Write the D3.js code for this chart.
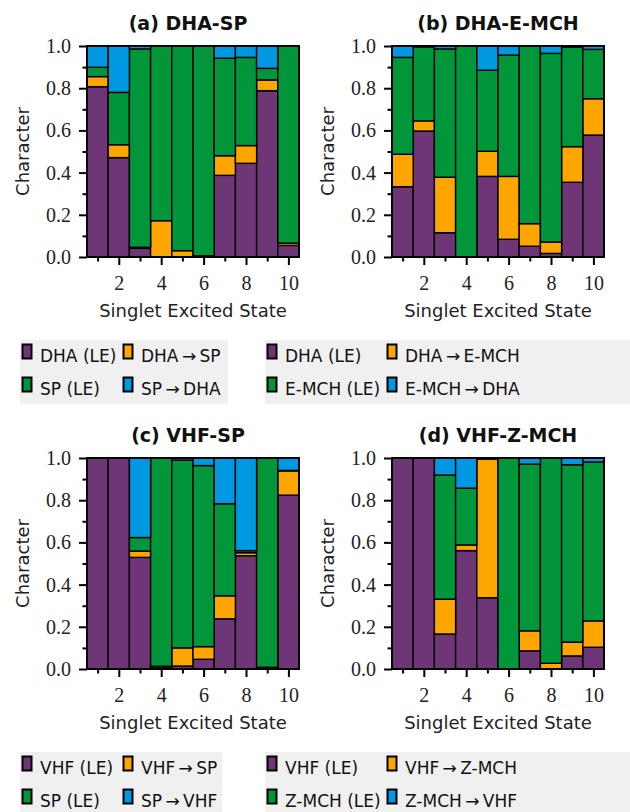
<!DOCTYPE html>
<html>
<head>
<meta charset="utf-8">
<script src="https://cdnjs.cloudflare.com/ajax/libs/d3/7.8.5/d3.min.js"></script>
<style>
body { margin: 0; background: #fff; }
svg { display: block; }
</style>
</head>
<body>
<svg id="chart" width="630" height="812"></svg>
<script>
var states = [1, 2, 3, 4, 5, 6, 7, 8, 9, 10];

// (a) DHA-SP
var aDhaLE   = [0.807, 0.471, 0.041, 0.000, 0.000, 0.003, 0.387, 0.444, 0.788, 0.055];
var aDhaToSp = [0.048, 0.061, 0.005, 0.172, 0.030, 0.003, 0.093, 0.084, 0.051, 0.011];
var aSpLE    = [0.044, 0.248, 0.940, 0.828, 0.970, 0.994, 0.462, 0.418, 0.055, 0.934];
var aSpToDha = [0.101, 0.220, 0.014, 0.000, 0.000, 0.000, 0.058, 0.054, 0.106, 0.000];

// (b) DHA-E-MCH
var bDhaLE     = [0.333, 0.597, 0.115, 0.000, 0.382, 0.084, 0.051, 0.017, 0.354, 0.578];
var bDhaToEmch = [0.154, 0.048, 0.263, 0.000, 0.119, 0.298, 0.107, 0.054, 0.169, 0.172];
var bEmchLE    = [0.459, 0.351, 0.608, 1.000, 0.384, 0.575, 0.842, 0.894, 0.472, 0.234];
var bEmchToDha = [0.054, 0.004, 0.014, 0.000, 0.115, 0.043, 0.000, 0.035, 0.005, 0.016];

// (c) VHF-SP
var cVhfLE   = [1.000, 1.000, 0.529, 0.010, 0.014, 0.046, 0.238, 0.537, 0.004, 0.824];
var cVhfToSp = [0.000, 0.000, 0.030, 0.003, 0.086, 0.060, 0.109, 0.014, 0.004, 0.115];
var cSpLE    = [0.000, 0.000, 0.064, 0.987, 0.890, 0.858, 0.436, 0.010, 0.992, 0.002];
var cSpToVhf = [0.000, 0.000, 0.377, 0.000, 0.010, 0.036, 0.217, 0.439, 0.000, 0.059];

// (d) VHF-Z-MCH
var dVhfLE     = [1.000, 1.000, 0.166, 0.561, 0.338, 0.000, 0.086, 0.000, 0.062, 0.103];
var dVhfToZmch = [0.000, 0.000, 0.165, 0.027, 0.656, 0.000, 0.095, 0.027, 0.065, 0.125];
var dZmchLE    = [0.000, 0.000, 0.588, 0.269, 0.006, 1.000, 0.790, 0.973, 0.841, 0.753];
var dZmchToVhf = [0.000, 0.000, 0.081, 0.143, 0.000, 0.000, 0.029, 0.000, 0.032, 0.019];

var yMajor = [0, 0.2, 0.4, 0.6, 0.8, 1.0];
var yMinor = [0.1, 0.3, 0.5, 0.7, 0.9];
var xMajor = [2, 4, 6, 8, 10];
var xMinor = [1, 3, 5, 7, 9];

var colors = ["#6f3677", "#ffa500", "#02963a", "#0098e0"];

var panels = [
  { title: "(a) DHA-SP", series: [aDhaLE, aDhaToSp, aSpLE, aSpToDha],
    labels: ["DHA (LE)", "DHA\u2009\u2192\u2009SP", "SP (LE)", "SP\u2009\u2192\u2009DHA"],
    ox: 0, oy: 0, tdx: -5, leg: { x: 20, w: 208, cols: [21.5, 122.5] } },
  { title: "(b) DHA-E-MCH", series: [bDhaLE, bDhaToEmch, bEmchLE, bEmchToDha],
    labels: ["DHA (LE)", "DHA\u2009\u2192\u2009E-MCH", "E-MCH (LE)", "E-MCH\u2009\u2192\u2009DHA"],
    ox: 305, oy: 0, tdx: 0, leg: { x: 265, w: 365, cols: [266.5, 386.5] } },
  { title: "(c) VHF-SP", series: [cVhfLE, cVhfToSp, cSpLE, cSpToVhf],
    labels: ["VHF (LE)", "VHF\u2009\u2192\u2009SP", "SP (LE)", "SP\u2009\u2192\u2009VHF"],
    ox: 0, oy: 412, tdx: -5, leg: { x: 20, w: 202, cols: [21.5, 122.5] } },
  { title: "(d) VHF-Z-MCH", series: [dVhfLE, dVhfToZmch, dZmchLE, dZmchToVhf],
    labels: ["VHF (LE)", "VHF\u2009\u2192\u2009Z-MCH", "Z-MCH (LE)", "Z-MCH\u2009\u2192\u2009VHF"],
    ox: 305, oy: 412, tdx: 0, leg: { x: 265, w: 365, cols: [266.5, 386.5] } }
];

var svg = d3.select("#chart");
var serif = "'Liberation Serif', 'DejaVu Serif', serif";
var sans = "'DejaVu Sans', sans-serif";

panels.forEach(function(p) {
  var left = 87 + p.ox, right = 299 + p.ox;
  var top = 46 + p.oy, bottom = 257 + p.oy;

  var x = d3.scaleLinear().domain([0.5, 10.5]).range([left, right]);
  var y = d3.scaleLinear().domain([0, 1]).range([bottom, top]);

  var rows = states.map(function(s, i) {
    return { state: s, s0: p.series[0][i], s1: p.series[1][i], s2: p.series[2][i], s3: p.series[3][i] };
  });
  var stacked = d3.stack().keys(["s0", "s1", "s2", "s3"])(rows);

  var g = svg.append("g");

  g.selectAll("g.layer")
    .data(stacked)
    .enter().append("g")
    .attr("class", "layer")
    .attr("fill", function(d, i) { return colors[i]; })
    .selectAll("rect")
    .data(function(d) { return d; })
    .enter().append("rect")
    .attr("x", function(d) { return x(d.data.state - 0.5); })
    .attr("width", function(d) { return x(d.data.state + 0.5) - x(d.data.state - 0.5); })
    .attr("y", function(d) { return y(d[1]); })
    .attr("height", function(d) { return y(d[0]) - y(d[1]); })
    .attr("stroke", "#000")
    .attr("stroke-width", 1.4);

  // frame
  g.append("rect")
    .attr("x", left).attr("y", top)
    .attr("width", right - left).attr("height", bottom - top)
    .attr("fill", "none").attr("stroke", "#000").attr("stroke-width", 2);

  function styleAxis(ax) {
    ax.attr("font-family", serif).attr("font-size", 20);
    ax.select(".domain").remove();
    ax.selectAll(".tick line").attr("stroke-width", 2);
    ax.selectAll("text").style("font-family", serif).attr("font-size", 20).attr("fill", "#222");
  }

  g.append("g").attr("transform", "translate(" + left + ",0)")
    .call(d3.axisLeft(y).tickValues(yMajor).tickSize(8).tickPadding(8).tickFormat(d3.format(".1f")))
    .call(styleAxis);
  g.append("g").attr("transform", "translate(" + left + ",0)")
    .call(d3.axisLeft(y).tickValues(yMinor).tickSize(4.5).tickFormat(""))
    .call(styleAxis);
  g.append("g").attr("transform", "translate(0," + bottom + ")")
    .call(d3.axisBottom(x).tickValues(xMajor).tickSize(8).tickPadding(11).tickFormat(d3.format("d")))
    .call(styleAxis);
  g.append("g").attr("transform", "translate(0," + bottom + ")")
    .call(d3.axisBottom(x).tickValues(xMinor).tickSize(4.5).tickFormat(""))
    .call(styleAxis);

  g.append("text")
    .attr("x", (left + right) / 2 + p.tdx)
    .attr("y", 30 + p.oy)
    .attr("text-anchor", "middle")
    .attr("font-family", sans).attr("font-weight", "bold").attr("font-size", 19)
    .attr("fill", "#111")
    .text(p.title);

  g.append("text")
    .attr("x", (left + right) / 2)
    .attr("y", 317 + p.oy)
    .attr("text-anchor", "middle")
    .attr("font-family", sans).attr("font-size", 18).attr("fill", "#222")
    .text("Singlet Excited State");

  g.append("text")
    .attr("transform", "translate(" + (29 + p.ox) + "," + ((top + bottom) / 2) + ") rotate(-90)")
    .attr("text-anchor", "middle")
    .attr("font-family", sans).attr("font-size", 18).attr("fill", "#222")
    .text("Character");

  // legend
  var legTop = 340 + p.oy;
  g.append("rect")
    .attr("x", p.leg.x).attr("y", legTop)
    .attr("width", p.leg.w).attr("height", 64)
    .attr("fill", "#f0f0f0");

  var items = g.selectAll("g.item")
    .data(p.labels)
    .enter().append("g")
    .attr("class", "item")
    .attr("transform", function(d, i) {
      return "translate(" + p.leg.cols[i % 2] + "," + (legTop + 3.5 + Math.floor(i / 2) * 33) + ")";
    });
  items.append("rect")
    .attr("x", 1).attr("y", 1)
    .attr("width", 9).attr("height", 14)
    .attr("fill", function(d, i) { return colors[i]; })
    .attr("stroke", "#000").attr("stroke-width", 2);
  items.append("text")
    .attr("x", 18.5).attr("y", 18.5)
    .attr("font-family", sans).attr("font-size", 17).attr("fill", "#111")
    .text(function(d) { return d; });
});
</script>
</body>
</html>
